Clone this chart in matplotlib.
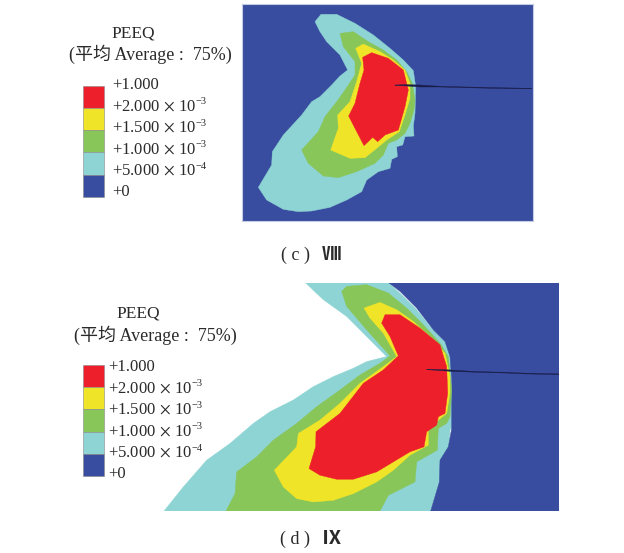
import matplotlib
matplotlib.use('Agg')
import matplotlib.pyplot as plt

plt.rcParams['font.family'] = ['Liberation Serif', 'Noto Sans CJK SC', 'DejaVu Sans']
plt.rcParams['mathtext.fontset'] = 'stix'

# colours of the contour bands
blue = '#384da0'
cyan = '#8fd4d4'
green = '#88c659'
yellow = '#f0e428'
red = '#ed1f2b'
textCol = '#2a2a2a'
crackCol = '#1a1d4a'

# legend
legendLabels = ['+1.000', '+2.000$\\,\\times\\,$10', '+1.500$\\,\\times\\,$10',
                '+1.000$\\,\\times\\,$10', '+5.000$\\,\\times\\,$10', '+0']
legendExps = ['', '−3', '−3', '−3', '−4', '']
legendCols = [red, yellow, green, cyan, blue]

# contour outlines of panel c
cCyan = [(225,65),(243,43),(290,43),(345,70),(400,105),(450,145),(490,180),(520,212),(527,260),
         (525,340),(520,378),(522,408),(495,410),(488,435),(470,440),(472,470),(455,478),(450,505),
         (415,515),(380,540),(365,575),(320,600),(270,622),(215,633),(175,635),(130,628),(80,600),
         (55,562),(95,495),(97,455),(130,405),(185,345),(215,305),(240,290),(275,255),(300,228),
         (323,210),(300,165),(260,125),(240,95)]
cGreen = [(300,100),(340,95),(385,125),(430,150),(470,180),(500,215),(517,250),(525,300),(522,330),
          (510,370),(495,400),(470,420),(445,430),(430,465),(405,490),(350,515),(295,533),(250,528),
          (205,490),(185,450),(235,395),(255,350),(290,305),(315,270),(345,225),(345,185),(310,140)]
cYellow = [(347,145),(370,132),(420,155),(460,180),(495,210),(510,250),(510,295),(495,345),(478,395),
           (440,420),(410,445),(375,473),(330,475),(272,450),(295,385),(293,345),(330,305),(350,245),
           (365,190)]
cRed = [(368,172),(395,158),(445,175),(490,210),(505,270),(495,320),(475,390),(435,405),(413,425),
        (398,412),(372,437),(345,385),(326,348),(345,310),(360,250),(372,210)]
cCrack = [(465,255),(500,254),(540,255),(600,259),(680,261),(760,263),(875,265),
          (875,266),(760,265),(680,263),(600,261),(540,261),(500,258),(465,256)]

# contour outlines of panel d
dBlue = [(717,10),(1227,10),(1227,692),(842,692),(868,605),(870,540),(895,500),(905,445),(905,300),
         (900,230),(885,185),(850,150),(800,85),(750,35)]
dCyan = [(467,10),(717,10),(760,50),(800,90),(840,140),(885,185),(903,235),(905,340),(910,435),
         (900,450),(897,510),(868,605),(842,692),(42,692),(100,620),(170,540),(240,490),(310,430),
         (360,395),(430,360),(490,320),(550,290),(610,265),(650,245),(710,230),(650,170),(590,110),
         (520,60)]
dGreen = [(575,35),(590,20),(650,15),(715,40),(770,85),(820,135),(870,190),(895,230),(905,330),
          (900,410),(890,430),(865,445),(862,510),(800,545),(795,605),(715,645),(690,692),(228,692),
          (255,640),(260,575),(320,530),(370,480),(440,430),(500,380),(570,330),(630,285),(690,250),
          (720,228),(650,150),(590,80)]
dYellow = [(642,85),(690,68),(740,90),(790,125),(840,170),(885,220),(900,290),(900,340),(890,400),
           (865,420),(835,450),(835,495),(780,525),(730,570),(680,605),(610,640),(550,660),(490,665),
           (440,655),(400,620),(373,570),(440,500),(445,460),(510,420),(570,370),(630,310),(700,260),
           (740,230),(700,160),(660,115)]
dRed = [(695,130),(705,105),(750,105),(810,145),(870,195),(890,260),(893,340),(885,400),(865,410),
        (860,435),(830,455),(822,500),(780,515),(730,545),(680,575),(610,597),(560,597),(510,585),
        (477,565),(497,500),(498,455),(570,400),(640,310),(700,270),(745,228),(720,170)]
dCrack = [(830,268),(900,270),(980,275),(1060,277),(1130,280),(1227,282),
          (1227,284),(1130,282),(1060,279),(980,277),(900,274),(830,269)]

W = 624
H = 553
fig = plt.figure(figsize=(W / 100, H / 100), dpi=100, facecolor='white')


def pxAxes(x0, y0, x1, y1):
    ax = fig.add_axes([x0 / W, 1 - y1 / H, (x1 - x0) / W, (y1 - y0) / H])
    ax.set_xticks([])
    ax.set_yticks([])
    return ax


def fillBand(ax, pts, col):
    ax.fill([p[0] for p in pts], [p[1] for p in pts], color=col, lw=0.3)


# panel c
axC = pxAxes(242, 4, 533, 221)
axC.set_xlim(6, 879)
axC.set_ylim(663, 12)
axC.set_facecolor(blue)
for s in axC.spines.values():
    s.set_color('#c5cbe2')
    s.set_linewidth(0.8)
for pts, col in [(cCyan, cyan), (cGreen, green), (cYellow, yellow), (cRed, red), (cCrack, crackCol)]:
    fillBand(axC, pts, col)

# panel d
axD = pxAxes(150, 283, 559, 511)
axD.set_xlim(0, 1227)
axD.set_ylim(692, 10)
axD.axis('off')
for pts, col in [(dCyan, cyan), (dBlue, blue), (dGreen, green), (dYellow, yellow), (dRed, red), (dCrack, crackCol)]:
    fillBand(axD, pts, col)

# overlay in pixels for legends and captions
axT = fig.add_axes([0, 0, 1, 1], zorder=5)
axT.set_xlim(0, W)
axT.set_ylim(H, 0)
axT.axis('off')


def legend(peeqX, peeqY, avgX, avgY, barTop, barStep, labX, labTop, labStep):
    axT.text(peeqX, peeqY, 'PEEQ', fontsize=12.5, ha='center', va='center', color=textCol)
    axT.text(avgX, avgY, '(平均 Average :  75%)', fontsize=13, ha='center', va='center', color=textCol)
    for i, col in enumerate(legendCols):
        axT.bar(83, barStep, width=21, bottom=barTop + i * barStep, align='edge', color=col,
                edgecolor='#8a8a8a', lw=0.4)
    for i, lab in enumerate(legendLabels):
        y = labTop + i * labStep + 5
        axT.text(labX, y, lab, fontsize=12, ha='left', va='baseline', color=textCol)
        axT.text(labX + 84, y - 6, legendExps[i], fontsize=7.5, ha='left', va='baseline', color=textCol)


legend(133.5, 33, 150, 54, 85.5, 22.3, 112, 84, 21.4)
legend(138, 313, 155, 335, 365, 22.2, 108, 366, 21.4)

axT.text(281, 255, '( c )', fontsize=13, ha='left', va='center', color=textCol)
axT.text(332, 255, 'Ⅷ', fontsize=14, ha='center', va='center', color=textCol, fontweight='bold')
axT.text(280, 539, '( d )', fontsize=13, ha='left', va='center', color=textCol)
axT.text(332, 539, 'Ⅸ', fontsize=14, ha='center', va='center', color=textCol, fontweight='bold')

fig.savefig('out.png', dpi=100)
